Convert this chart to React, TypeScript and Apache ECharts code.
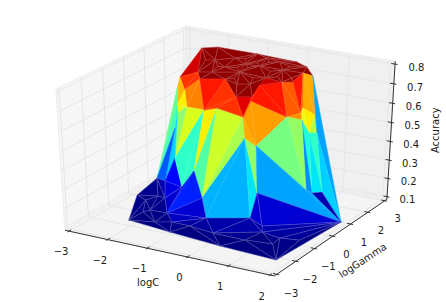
import React, { useEffect, useRef } from "react";
import * as echarts from "echarts";

const logCTicks = [-3, -2, -1, 0, 1, 2];
const logGammaTicks = [-3, -2, -1, 0, 1, 2, 3];
const accuracyTicks = [0.1, 0.2, 0.3, 0.4, 0.5, 0.6, 0.7, 0.8];

// [logC, logGamma, accuracy]
const vertices: number[][] = [
  [-2.06, 1.85, 0.8], [-1.79, 2.13, 0.8], [-0.79, 2.12, 0.8], [0.22, 2.02, 0.8], [0.57, 1.78, 0.8],
  [0.98, 1.19, 0.8], [-1.26, 0.03, 0.8], [-0.52, -0.13, 0.8], [0.27, -1.24, 0.8], [0.56, -1.04, 0.8],
  [0.19, 0.46, 0.8], [0.61, 0.37, 0.8], [0.66, 0.78, 0.8], [0.7, 1.29, 0.8], [-1.37, 1.12, 0.8],
  [-1.07, 1.52, 0.8], [-0.33, 1.25, 0.8], [0.23, 1.25, 0.8], [-1.0, 0.2, 0.8], [-0.49, 0.56, 0.8],
  [0.1, -0.17, 0.8], [-0.94, 0.73, 0.8], [-0.46, 1.95, 0.8], [-0.14, -0.33, 0.8], [-0.1, 1.8, 0.8],
  [-0.68, 1.21, 0.8], [0.81, 0.51, 0.8], [0.31, -0.12, 0.8], [-0.98, -0.45, 0.8],
  [-2.16, 0.92, 0.695], [-1.61, 0.06, 0.695], [-1.82, 0.1, 0.695], [-0.02, 0.13, 0.695],
  [-1.27, 0.34, 0.59], [-1.1, 0.64, 0.59], [-0.31, 0.35, 0.59], [0.5, 0.92, 0.59], [0.87, 0.9, 0.59],
  [0.63, 1.38, 0.59], [0.96, 1.42, 0.59], [0.51, 1.76, 0.59], [-1.66, -0.21, 0.59], [-1.95, 0.34, 0.59],
  [-1.7, 0.33, 0.59],
  [0.58, 1.98, 0.45], [0.73, 2.08, 0.45], [0.0, 0.39, 0.45], [-0.47, 0.79, 0.45], [-1.12, -1.45, 0.45],
  [-2.13, 0.56, 0.45],
  [-1.43, 0.11, 0.275], [-1.14, -1.09, 0.275], [-1.9, -0.84, 0.275], [-1.65, -0.92, 0.275],
  [1.27, 0.33, 0.275], [1.47, 0.21, 0.275], [1.63, 0.4, 0.275], [0.45, -0.5, 0.275],
  [-2.59, -0.54, 0.135], [-1.96, -0.36, 0.135], [-1.43, -1.29, 0.135], [-1.24, 0.13, 0.135],
  [-0.54, -1.09, 0.135], [0.29, -0.52, 0.135], [-1.06, -1.78, 0.135], [0.75, -0.86, 0.135],
  [-2.14, -1.83, 0.1], [1.78, -2.34, 0.1], [1.94, 0.83, 0.1], [-0.99, -2.03, 0.1], [0.36, -2.22, 0.1],
  [-0.15, -1.53, 0.1], [0.74, -0.83, 0.1], [1.28, -1.43, 0.1], [-2.06, -0.92, 0.1], [-2.47, -0.34, 0.1],
  [-2.37, 0.08, 0.1], [-2.13, -1.14, 0.1], [-1.58, -1.61, 0.1], [-0.8, -1.4, 0.1], [0.65, -1.54, 0.1],
  [1.67, -0.84, 0.1], [1.24, -0.97, 0.1],
  [-0.85, 1.6, 0.8], [-0.5, 1.45, 0.8], [-0.3, 1.65, 0.8], [-0.05, 0.3, 0.8], [0.35, 0.7, 0.8],
  [0.25, 1.6, 0.8], [-1.1, 0.7, 0.8], [-0.7, 0.85, 0.8], [-0.5, 1.0, 0.8], [0.05, 1.0, 0.8],
  [-0.4, 0.05, 0.8], [-1.55, 1.0, 0.8],
];

// triangle vertex indices, with the accuracy that colours each triangle
const faces: number[][] = [
  [0,1,14],[1,15,14],[1,2,15],[2,25,83],[25,15,83],[15,2,83],[2,22,25],[2,3,22],[3,24,22],[3,4,24],
  [4,17,88],[17,24,88],[24,4,88],[4,13,17],[4,5,13],
  [0,14,94],[14,6,94],[6,0,94],[6,14,18],[14,21,89],[21,18,89],[18,14,89],[14,15,21],[15,25,21],
  [21,25,90],[25,19,90],[19,21,90],[25,16,91],[16,19,91],[19,25,91],[25,22,84],[22,16,84],[16,25,84],
  [22,24,85],[24,16,85],[16,22,85],[24,17,16],
  [17,13,12],[17,12,11],[17,11,87],[11,10,87],[10,17,87],[16,17,92],[17,10,92],[10,16,92],[19,16,10],
  [19,10,86],[10,20,86],[20,19,86],[10,9,20],[20,9,8],[20,8,23],[19,20,23],
  [19,23,93],[23,7,93],[7,19,93],[18,19,7],[21,19,18],[18,7,28],[18,28,6],[23,8,7],
  [0,29,6],[29,6,30],[6,28,30],[28,33,43],[28,43,30],[29,30,42],[29,31,42],[30,42,43],[42,41,43],
  [31,52,42],[42,52,41],[41,52,49],[43,33,48],[43,48,41],[41,48,49],[49,48,53],[49,53,52],[48,53,51],
  [33,48,51],[33,51,50],[33,34,50],[34,50,61],[34,35,61],[35,47,61],[47,61,62],[47,62,63],[47,57,63],
  [47,46,57],[35,47,46],[35,32,46],[32,36,46],[8,9,35],[9,32,35],[7,33,8],[28,7,33],[33,34,8],[34,35,8],
  [9,10,27],[9,27,32],[27,36,32],[27,11,36],[10,11,27],[11,26,38],[11,38,36],[26,12,13],[26,13,38],[11,12,26],
  [13,5,39],[13,39,40],[13,40,38],[38,40,37],[36,38,37],[40,39,44],[37,40,44],[39,45,44],[5,45,39],[5,68,45],[45,68,56],
  [44,45,56],[44,56,55],[37,44,55],[37,55,54],[36,37,54],[36,46,54],[46,54,68],[46,57,68],[54,55,68],[55,56,68],
  [57,68,65],[57,65,63],
  [62,63,71],[63,72,71],[64,62,79],[62,71,79],[64,79,69],[79,71,70],[69,79,70],[71,80,70],[70,80,67],[71,72,80],
  [72,73,80],[80,73,67],[72,82,73],[73,82,67],[82,81,67],[82,81,68],[67,68,81],[72,82,68],[65,72,68],[63,65,72],
  [53,51,59],[51,50,60],[59,51,60],[50,61,60],[60,61,62],[60,62,64],
  [52,53,59],[52,59,76],[52,76,58],[58,76,75],[76,59,74],[75,76,74],[58,75,66],[75,77,66],[75,74,77],[77,74,78],
  [66,77,78],[74,59,60],[74,60,78],[78,60,64],[66,78,69],[78,64,69],
];
const faceAccuracy: number[] = [
  0.79,0.79,0.79,0.79,0.79,0.79,0.79,0.79,0.79,0.79,
  0.79,0.79,0.79,0.79,0.79,
  0.79,0.79,0.79,0.79,0.79,0.79,0.79,0.79,0.79,
  0.79,0.79,0.79,0.79,0.79,0.79,0.79,0.79,0.79,
  0.79,0.79,0.79,0.79,
  0.79,0.79,0.79,0.79,0.79,0.79,0.79,0.79,0.79,
  0.79,0.79,0.79,0.79,0.79,0.79,0.79,
  0.79,0.79,0.79,0.79,0.79,0.79,0.79,0.79,
  0.75,0.7,0.7,0.64,0.64,0.6,0.6,0.56,0.55,
  0.43,0.39,0.4,0.53,0.47,0.34,0.33,0.25,0.19,
  0.385,0.385,0.56,0.415,0.52,0.49,0.31,0.31,0.345,
  0.47,0.61,0.62,0.62,0.74,0.7,0.7,0.72,0.7,0.7,
  0.75,0.72,0.72,0.72,0.76,0.67,0.67,0.78,0.72,0.78,
  0.61,0.61,0.66,0.58,0.63,0.56,0.54,0.5,0.62,0.3,0.33,
  0.385,0.345,0.37,0.285,0.47,0.445,0.3,0.3,0.3,0.13,
  0.15,0.15,
  0.125,0.125,0.12,0.12,0.105,0.105,0.1,0.1,0.1,0.11,
  0.1,0.1,0.105,0.1,0.105,0.115,0.1,0.12,0.13,0.125,
  0.16,0.17,0.15,0.21,0.15,0.14,
  0.13,0.11,0.11,0.105,0.11,0.105,0.105,0.105,0.105,0.1,
  0.1,0.11,0.105,0.105,0.1,0.105,
];

const X_MIN = -3, X_MAX = 2, Y_MIN = -3, Y_MAX = 3, Z_MIN = 0.1, Z_MAX = 0.8;
const LO = -1 / 48, HI = 49 / 48;

// Default 3-D view of the original plot: elevation 30, azimuth -60, distance 10.
function viewOf(nx: number, ny: number, nz: number): number[] {
  const a = nx - 0.5, b = ny - 0.5, c = nz - 0.5;
  const xv = 0.866025 * a + 0.5 * b;
  const yv = -0.25 * a + 0.433013 * b + 0.866025 * c;
  const zv = 0.433013 * a - 0.75 * b + 0.5 * c;
  return [xv / (10 - zv), yv / (10 - zv)];
}
const nX = (v: number) => (v - X_MIN) / (X_MAX - X_MIN);
const nY = (v: number) => (v - Y_MIN) / (Y_MAX - Y_MIN);
const nZ = (v: number) => (v - Z_MIN) / (Z_MAX - Z_MIN);

function ramp(t: number, stops: number[][]): number {
  for (let i = 1; i < stops.length; i++) {
    if (t <= stops[i][0]) {
      const [x0, y0] = stops[i - 1];
      const [x1, y1] = stops[i];
      return y0 + ((y1 - y0) * (t - x0)) / (x1 - x0);
    }
  }
  return stops[stops.length - 1][1];
}
function jetRgb(t: number): number[] {
  const r = ramp(t, [[0, 0], [0.35, 0], [0.66, 1], [0.89, 1], [1, 0.5]]);
  const g = ramp(t, [[0, 0], [0.125, 0], [0.375, 1], [0.64, 1], [0.91, 0], [1, 0]]);
  const b = ramp(t, [[0, 0.5], [0.11, 1], [0.34, 1], [0.65, 0], [1, 0]]);
  return [r * 255, g * 255, b * 255];
}
const css = (c: number[]) => `rgb(${Math.round(c[0])},${Math.round(c[1])},${Math.round(c[2])})`;
// Triangle edges read lighter than their fill, strongest on the dark, densely meshed parts.
const edgeOf = (c: number[], t: number) => {
  const w = t > 0.95 ? 0.3 : t < 0.1 ? 0.32 : 0.12;
  return css(c.map((v) => v + (255 - v) * w));
};

const FONT = '"DejaVu Sans"';
const idx = (list: any[]) => list.map((_, i) => [i, 0]);

function buildOption() {
  const panes = [
    { pts: [[LO, LO, LO], [LO, HI, LO], [LO, HI, HI], [LO, LO, HI]], fill: "#f6f6f6" },
    { pts: [[LO, HI, LO], [HI, HI, LO], [HI, HI, HI], [LO, HI, HI]], fill: "#f0f0f0" },
    { pts: [[LO, LO, LO], [HI, LO, LO], [HI, HI, LO], [LO, HI, LO]], fill: "#f4f4f4" },
  ];
  const gridLines: number[][][] = [];
  logCTicks.forEach((t) => gridLines.push([[nX(t), LO, LO], [nX(t), HI, LO], [nX(t), HI, HI]]));
  logGammaTicks.forEach((t) => gridLines.push([[HI, nY(t), LO], [LO, nY(t), LO], [LO, nY(t), HI]]));
  accuracyTicks.forEach((t) => gridLines.push([[LO, LO, nZ(t)], [LO, HI, nZ(t)], [HI, HI, nZ(t)]]));

  const axisLines: number[][][] = [
    [[LO, LO, LO], [HI, LO, LO]],
    [[HI, LO, LO], [HI, HI, LO]],
    [[HI, HI, LO], [HI, HI, HI]],
  ];
  logCTicks.forEach((t) => axisLines.push([[nX(t), LO - 0.012, LO], [nX(t), LO + 0.018, LO]]));
  logGammaTicks.forEach((t) => axisLines.push([[HI + 0.012, nY(t), LO], [HI - 0.018, nY(t), LO]]));
  accuracyTicks.forEach((t) => axisLines.push([[HI + 0.012, HI, nZ(t)], [HI - 0.018, HI, nZ(t)]]));

  const fmt = (v: number) => String(v).replace("-", "\u2212");
  const labels: any[] = [];
  logCTicks.forEach((t) => labels.push({ p: [nX(t), -0.09, -0.14], text: fmt(t), rot: 0 }));
  logGammaTicks.forEach((t) => labels.push({ p: [1.09, nY(t), -0.14], text: fmt(t), rot: 0 }));
  accuracyTicks.forEach((t) => labels.push({ p: [1.09, 1.09, nZ(t) - 0.04], text: t.toFixed(1), rot: 0 }));
  labels.push({ p: [0.5, -0.18, -0.16], text: "logC", rot: 0 });
  labels.push({ p: [1.17, 0.5, -0.16], text: "logGamma", rot: 0.58 });
  labels.push({ p: [1.18, 1.14, 0.5], text: "Accuracy", rot: Math.PI / 2 });

  const pt = (api: any, p: number[]) => api.coord(viewOf(p[0], p[1], p[2]));

  const custom = (name: string, data: any[], renderItem: any) => ({
    type: "custom",
    name,
    silent: true,
    coordinateSystem: "cartesian2d",
    clip: false,
    data,
    renderItem,
  });

  return {
    animation: false,
    backgroundColor: "#ffffff",
    grid: { left: 8, top: 7.3, width: 429.4, height: 286.2 },
    xAxis: { type: "value", min: -0.095, max: 0.09, show: false },
    yAxis: { type: "value", min: -0.095, max: 0.09, show: false },
    series: [
      custom("panes", idx(panes), (p: any, api: any) => ({
        type: "polygon",
        shape: { points: panes[p.dataIndex].pts.map((q) => pt(api, q)) },
        style: { fill: panes[p.dataIndex].fill, stroke: "#ececec", lineWidth: 1 },
      })),
      custom("grid", idx(gridLines), (p: any, api: any) => ({
        type: "polyline",
        shape: { points: gridLines[p.dataIndex].map((q) => pt(api, q)) },
        style: { fill: null, stroke: "#e6e6e6", lineWidth: 1 },
      })),
      custom("axes", idx(axisLines), (p: any, api: any) => ({
        type: "polyline",
        shape: { points: axisLines[p.dataIndex].map((q) => pt(api, q)) },
        style: { fill: null, stroke: "#333333", lineWidth: 1 },
      })),
      custom("surface", idx(faces), (p: any, api: any) => {
        const t = nZ(faceAccuracy[p.dataIndex]);
        const c = jetRgb(t);
        return {
          type: "polygon",
          shape: {
            points: faces[p.dataIndex].map((i) => {
              const v = vertices[i];
              return pt(api, [nX(v[0]), nY(v[1]), nZ(v[2])]);
            }),
          },
          style: { fill: css(c), stroke: edgeOf(c, t), lineWidth: 0.5 },
        };
      }),
      custom("labels", idx(labels), (p: any, api: any) => {
        const l = labels[p.dataIndex];
        const c = pt(api, l.p);
        return {
          type: "text",
          x: c[0],
          y: c[1],
          rotation: l.rot,
          style: {
            text: l.text,
            fontFamily: FONT,
            fontSize: 10,
            fill: "#1a1a1a",
            align: "center",
            verticalAlign: "middle",
          },
        };
      }),
    ],
  };
}

export default function App() {
  const ref = useRef<HTMLDivElement>(null);
  useEffect(() => {
    document.body.style.margin = "0";
    const chart = echarts.init(ref.current!, null, { renderer: "svg" });
    chart.setOption(buildOption() as any);
    return () => chart.dispose();
  }, []);
  return <div ref={ref} style={{ width: 446, height: 302 }} />;
}
